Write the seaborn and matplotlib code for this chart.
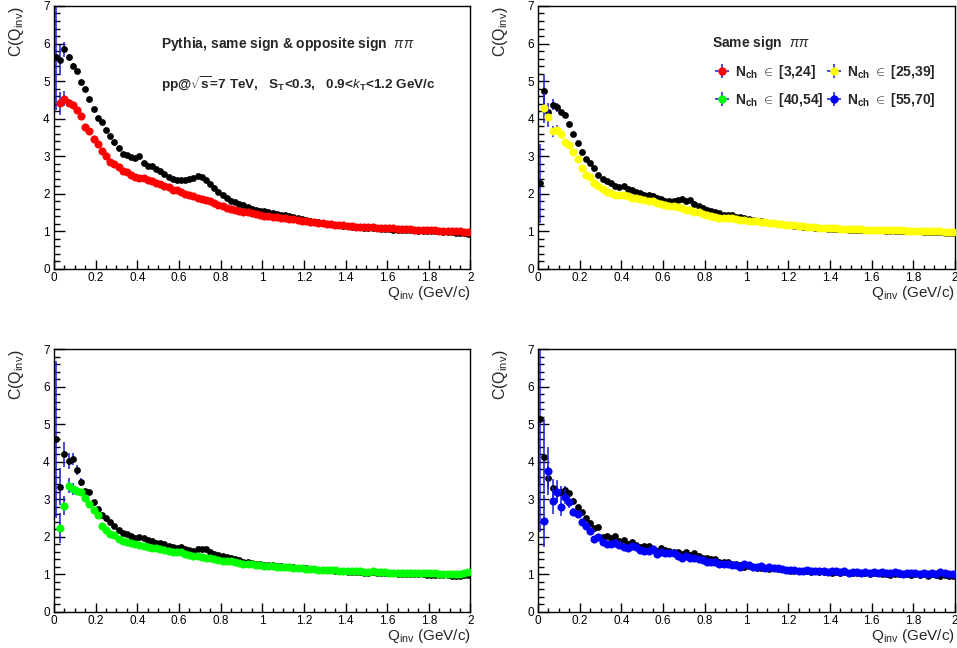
import numpy as np
import matplotlib
matplotlib.use("Agg")
import matplotlib.pyplot as plt
from matplotlib.ticker import MultipleLocator, FuncFormatter
import seaborn as sns

# bin centres of the Q_inv histograms (100 bins, 0-2 GeV/c)
q_bins = np.arange(100) * 0.02 + 0.01

# ---- panel 1: all multiplicities
os_all = [5.63, 5.56, 5.85, 5.63, 5.39, 5.27, 4.98, 4.79, 4.53, 4.27,
          4.02, 3.91, 3.71, 3.55, 3.37, 3.21, 3.05, 3.03, 2.98, 2.95,
          3.02, 2.83, 2.75, 2.74, 2.67, 2.60, 2.52, 2.44, 2.39, 2.37,
          2.37, 2.37, 2.39, 2.43, 2.48, 2.46, 2.36, 2.26, 2.15, 2.06,
          1.98, 1.90, 1.82, 1.77, 1.73, 1.69, 1.65, 1.60, 1.58, 1.55,
          1.53, 1.51, 1.49, 1.47, 1.45, 1.43, 1.41, 1.38, 1.35, 1.32,
          1.30, 1.28, 1.26, 1.24, 1.22, 1.20, 1.19, 1.17, 1.16, 1.15,
          1.14, 1.13, 1.12, 1.11, 1.10, 1.09, 1.09, 1.08, 1.07, 1.07,
          1.06, 1.05, 1.05, 1.04, 1.04, 1.03, 1.03, 1.02, 1.02, 1.01,
          1.01, 1.00, 1.00, 0.99, 0.99, 0.98, 0.97, 0.96, 0.96, 0.94]
ss_all = [np.nan, 4.41, 4.53, 4.43, 4.36, 4.22, 4.06, 3.79, 3.67, 3.47,
          3.32, 3.13, 3.01, 2.86, 2.79, 2.71, 2.60, 2.57, 2.51, 2.44,
          2.42, 2.42, 2.37, 2.33, 2.29, 2.26, 2.22, 2.18, 2.11, 2.09,
          2.04, 2.00, 1.98, 1.93, 1.89, 1.86, 1.84, 1.81, 1.75, 1.71,
          1.67, 1.63, 1.59, 1.58, 1.55, 1.52, 1.51, 1.48, 1.46, 1.44,
          1.42, 1.41, 1.39, 1.38, 1.36, 1.35, 1.33, 1.32, 1.30, 1.29,
          1.27, 1.26, 1.25, 1.23, 1.22, 1.21, 1.20, 1.18, 1.17, 1.16,
          1.15, 1.14, 1.13, 1.13, 1.12, 1.11, 1.11, 1.10, 1.09, 1.09,
          1.08, 1.08, 1.07, 1.07, 1.06, 1.06, 1.05, 1.05, 1.04, 1.04,
          1.03, 1.03, 1.02, 1.02, 1.01, 1.01, 1.00, 1.00, 0.99, 0.98]
os_all_err = [1.4, 0.4, 0.2, 0.1, 0.08, 0.06]
ss_all_err = [0.0, 0.3, 0.2, 0.1, 0.07, 0.05]

# ---- panel 2: N_ch in [25,39]
os_25 = [2.28, 4.75, 4.17, 4.37, 4.30, 4.19, 4.10, 3.85, 3.60, 3.35,
         3.11, 2.93, 2.83, 2.70, 2.49, 2.40, 2.33, 2.29, 2.20, 2.18,
         2.20, 2.13, 2.09, 2.05, 2.02, 1.98, 1.97, 1.93, 1.90, 1.86,
         1.82, 1.82, 1.82, 1.84, 1.87, 1.82, 1.83, 1.74, 1.67, 1.61,
         1.58, 1.54, 1.51, 1.48, 1.45, 1.43, 1.43, 1.38, 1.38, 1.36,
         1.33, 1.31, 1.29, 1.27, 1.25, 1.23, 1.22, 1.20, 1.19, 1.17,
         1.16, 1.15, 1.14, 1.13, 1.12, 1.11, 1.10, 1.09, 1.08, 1.07,
         1.07, 1.06, 1.06, 1.06, 1.05, 1.05, 1.05, 1.04, 1.04, 1.04,
         1.03, 1.03, 1.03, 1.02, 1.02, 1.02, 1.01, 1.01, 1.01, 1.00,
         1.00, 1.00, 0.99, 0.99, 0.99, 0.98, 0.98, 0.97, 0.97, 0.96]
ss_25 = [np.nan, 4.28, 4.04, 3.66, 3.70, 3.60, 3.39, 3.29, 3.11, 2.93,
         2.68, 2.49, 2.44, 2.30, 2.20, 2.13, 2.04, 2.02, 1.96, 1.97,
         1.98, 1.93, 1.90, 1.89, 1.87, 1.84, 1.82, 1.80, 1.75, 1.73,
         1.70, 1.68, 1.67, 1.64, 1.62, 1.58, 1.56, 1.51, 1.51, 1.47,
         1.44, 1.42, 1.39, 1.37, 1.36, 1.36, 1.35, 1.34, 1.31, 1.30,
         1.29, 1.28, 1.27, 1.25, 1.24, 1.23, 1.22, 1.20, 1.19, 1.18,
         1.17, 1.16, 1.15, 1.14, 1.13, 1.12, 1.11, 1.10, 1.10, 1.09,
         1.08, 1.08, 1.07, 1.07, 1.07, 1.06, 1.06, 1.06, 1.05, 1.05,
         1.05, 1.04, 1.04, 1.04, 1.03, 1.03, 1.03, 1.03, 1.02, 1.02,
         1.02, 1.01, 1.01, 1.01, 1.00, 1.00, 1.00, 0.99, 0.99, 0.99]
os_25_err = [1.05, 0.42, 0.25, 0.15, 0.12, 0.08, 0.06]
ss_25_err = [0.0, 0.4, 0.25, 0.15, 0.12, 0.08, 0.06]

# ---- panel 3: N_ch in [40,54]
os_40 = [4.59, 3.33, 4.19, 4.02, 4.07, 3.77, 3.46, 3.21, 3.20, 2.93,
         2.74, 2.58, 2.50, 2.38, 2.29, 2.18, 2.10, 2.06, 2.02, 1.95,
         1.99, 1.95, 1.91, 1.87, 1.82, 1.83, 1.79, 1.76, 1.73, 1.69,
         1.72, 1.66, 1.64, 1.62, 1.68, 1.68, 1.66, 1.60, 1.54, 1.51,
         1.47, 1.45, 1.42, 1.39, 1.37, 1.33, 1.32, 1.30, 1.28, 1.26,
         1.25, 1.24, 1.23, 1.22, 1.21, 1.20, 1.19, 1.18, 1.17, 1.16,
         1.15, 1.14, 1.13, 1.12, 1.11, 1.10, 1.10, 1.09, 1.08, 1.07,
         1.06, 1.06, 1.05, 1.05, 1.04, 1.04, 1.05, 1.03, 1.03, 1.02,
         1.02, 1.02, 1.01, 1.01, 1.00, 1.00, 1.00, 0.99, 0.99, 0.98,
         0.98, 0.98, 0.97, 0.97, 0.97, 0.96, 0.96, 0.96, 0.97, 0.97]
ss_40 = [np.nan, 2.22, 2.82, 3.36, 3.27, 3.22, 3.18, 3.02, 2.86, 2.71,
         2.58, 2.29, 2.18, 2.07, 2.04, 1.93, 1.88, 1.86, 1.82, 1.79,
         1.78, 1.76, 1.71, 1.69, 1.69, 1.67, 1.64, 1.62, 1.60, 1.58,
         1.58, 1.54, 1.51, 1.48, 1.47, 1.46, 1.44, 1.44, 1.39, 1.38,
         1.36, 1.35, 1.34, 1.31, 1.30, 1.28, 1.26, 1.26, 1.24, 1.23,
         1.22, 1.21, 1.21, 1.20, 1.19, 1.18, 1.18, 1.17, 1.16, 1.15,
         1.14, 1.13, 1.13, 1.12, 1.11, 1.11, 1.10, 1.10, 1.09, 1.08,
         1.08, 1.08, 1.07, 1.07, 1.06, 1.06, 1.07, 1.05, 1.05, 1.05,
         1.04, 1.04, 1.04, 1.03, 1.03, 1.03, 1.03, 1.02, 1.02, 1.02,
         1.02, 1.04, 1.01, 1.01, 1.00, 1.00, 0.99, 0.99, 1.02, 1.05]
os_40_err = [2.1, 0.5, 0.33, 0.22, 0.17, 0.13, 0.1, 0.07]
ss_40_err = [0.0, 0.4, 0.25, 0.2, 0.15, 0.1, 0.08, 0.06]

# ---- panel 4: N_ch in [55,70]
os_55 = [5.13, 4.13, 3.57, 3.29, 3.15, 3.20, 3.24, 3.15, 2.95, 2.80,
         2.65, 2.49, 2.37, 2.24, 2.26, 1.98, 2.02, 1.95, 2.02, 1.89,
         1.91, 1.79, 1.85, 1.78, 1.71, 1.75, 1.76, 1.64, 1.62, 1.69,
         1.63, 1.62, 1.60, 1.58, 1.53, 1.58, 1.51, 1.55, 1.47, 1.44,
         1.42, 1.40, 1.40, 1.33, 1.31, 1.31, 1.28, 1.26, 1.24, 1.18,
         1.22, 1.20, 1.17, 1.16, 1.17, 1.14, 1.15, 1.13, 1.13, 1.11,
         1.09, 1.07, 1.08, 1.07, 1.08, 1.06, 1.07, 1.05, 1.06, 1.05,
         1.04, 1.05, 1.03, 1.05, 1.02, 1.04, 1.02, 1.03, 1.03, 1.01,
         1.02, 1.03, 1.00, 1.01, 0.97, 1.01, 1.00, 0.99, 1.00, 0.97,
         1.00, 0.98, 0.99, 0.96, 0.99, 0.98, 0.95, 0.97, 0.96, 0.94]
ss_55 = [np.nan, 2.42, 3.75, 2.96, 3.20, 2.80, 3.06, 2.91, 2.65, 2.59,
         2.40, 2.29, 2.16, 1.94, 2.00, 1.85, 1.79, 1.79, 1.82, 1.78,
         1.73, 1.69, 1.76, 1.71, 1.64, 1.62, 1.62, 1.67, 1.54, 1.58,
         1.55, 1.55, 1.55, 1.49, 1.44, 1.49, 1.44, 1.42, 1.40, 1.38,
         1.33, 1.31, 1.31, 1.26, 1.26, 1.28, 1.24, 1.23, 1.20, 1.28,
         1.23, 1.20, 1.18, 1.22, 1.17, 1.19, 1.16, 1.15, 1.14, 1.12,
         1.10, 1.10, 1.09, 1.08, 1.11, 1.08, 1.09, 1.07, 1.08, 1.06,
         1.07, 1.09, 1.05, 1.07, 1.03, 1.06, 1.05, 1.04, 1.06, 1.04,
         1.05, 1.03, 1.06, 1.04, 1.02, 1.05, 1.03, 1.01, 1.04, 1.02,
         1.03, 1.01, 1.04, 1.00, 1.02, 0.99, 1.05, 1.03, 1.00, 0.99]
os_55_err = [3.0, 1.0, 0.3, 0.25, 0.2, 0.15, 0.12, 0.1, 0.07]
ss_55_err = [0.0, 0.7, 0.65, 0.35, 0.3, 0.25, 0.2, 0.15, 0.1, 0.07]

panel_colors = ["#ff0000", "#ffff00", "#00ff00", "#0000ff"]
legend_labels = ["[3,24]", "[25,39]", "[40,54]", "[55,70]"]
ERR_COLOR = "#1a1ad6"


def full_err(lead):
    return np.array(lead + [0.02] * (len(q_bins) - len(lead)))


def draw_series(ax, vals, errs, color, size, z):
    ax.errorbar(q_bins, vals, yerr=full_err(errs), fmt="none", ecolor=ERR_COLOR,
                elinewidth=1.1, capsize=0, zorder=z)
    sns.scatterplot(x=q_bins, y=np.array(vals), color=color, s=size, linewidth=0,
                    ax=ax, zorder=z + 0.5, legend=False)


def style_axes(ax):
    ax.set_xlim(0, 2)
    ax.set_ylim(0, 7)
    ax.xaxis.set_major_locator(MultipleLocator(0.2))
    ax.xaxis.set_minor_locator(MultipleLocator(0.05))
    ax.yaxis.set_major_locator(MultipleLocator(1))
    ax.yaxis.set_minor_locator(MultipleLocator(0.2))
    fmt = FuncFormatter(lambda v, _: f"{v:g}")
    ax.xaxis.set_major_formatter(fmt)
    ax.yaxis.set_major_formatter(fmt)
    ax.tick_params(which="both", direction="in", top=False, right=False,
                   bottom=True, left=True,
                   color="black", labelcolor="black", labelsize=8.5, width=1)
    ax.tick_params(axis="y", which="major", length=8, pad=3)
    ax.tick_params(axis="y", which="minor", length=4)
    ax.tick_params(axis="x", which="major", length=6.5, pad=2.5)
    ax.tick_params(axis="x", which="minor", length=3)
    for sp in ax.spines.values():
        sp.set_color("black")
        sp.set_linewidth(1.0)
    ax.set_xlabel("")
    ax.set_ylabel("")
    ax.text(1.0, -0.058, r"Q$_{\mathregular{inv}}$ (GeV/c)", transform=ax.transAxes,
            ha="right", va="top", fontsize=11)
    ax.text(-0.09, 1.0, r"C(Q$_{\mathregular{inv}}$)", transform=ax.transAxes,
            ha="center", va="top", rotation=90, fontsize=11.5)


sns.set_style("white")
plt.rcParams["font.family"] = ["Liberation Sans", "DejaVu Sans"]
plt.rcParams["mathtext.fontset"] = "custom"
plt.rcParams["mathtext.rm"] = "Liberation Sans"
plt.rcParams["mathtext.it"] = "Liberation Sans:italic"
plt.rcParams["mathtext.bf"] = "Liberation Sans:bold"

fig = plt.figure(figsize=(9.57, 6.48), dpi=100)
boxes = [[0.0564, 0.5849, 0.4352, 0.4059],
         [0.5622, 0.5849, 0.4357, 0.4059],
         [0.0564, 0.0563, 0.4352, 0.4050],
         [0.5622, 0.0563, 0.4357, 0.4050]]
axes = [fig.add_axes(b) for b in boxes]

panels = [(os_all, os_all_err, ss_all, ss_all_err, panel_colors[0]),
          (os_25, os_25_err, ss_25, ss_25_err, panel_colors[1]),
          (os_40, os_40_err, ss_40, ss_40_err, panel_colors[2]),
          (os_55, os_55_err, ss_55, ss_55_err, panel_colors[3])]

for ax, (os_vals, os_err, ss_vals, ss_err, col) in zip(axes, panels):
    draw_series(ax, os_vals, os_err, "black", 24, 2)
    draw_series(ax, ss_vals, ss_err, col, 34, 3)
    style_axes(ax)

# annotations
ax1 = axes[0]
ax1.text(0.257, 0.856, r"Pythia, same sign & opposite sign  $\pi\pi$", transform=ax1.transAxes,
         ha="left", va="center", fontsize=10, fontweight="bold")
ax1.text(0.257, 0.703,
         r"pp@$\sqrt{\mathbf{s}}$=7 TeV,   S$_{\mathbf{T}}$<0.3,   0.9<$k$$_{\mathbf{T}}$<1.2 GeV/c",
         transform=ax1.transAxes, ha="left", va="center", fontsize=9.7, fontweight="bold")

ax2 = axes[1]
ax2.text(0.417, 0.860, r"Same sign  $\pi\pi$", transform=ax2.transAxes,
         ha="left", va="center", fontsize=10, fontweight="bold")
handles = []
for col in panel_colors:
    h = ax2.errorbar([np.nan], [np.nan], xerr=[1], yerr=[1], fmt="o", color=col,
                     ecolor=ERR_COLOR, ms=6, mew=0, elinewidth=1.1, capsize=0)
    handles.append(h)
labels = [r"N$_{\mathbf{ch}}$ $\in$ " + lab for lab in legend_labels]
order = [0, 2, 1, 3]
leg = ax2.legend([handles[i] for i in order], [labels[i] for i in order], ncol=2,
                 loc="upper left", bbox_to_anchor=(0.418, 0.784), frameon=False,
                 prop={"weight": "bold", "size": 10}, borderpad=0, borderaxespad=0,
                 handlelength=1.35, handletextpad=0.3, columnspacing=0.05, labelspacing=0.75)
ax2.set_xlim(0, 2)
ax2.set_ylim(0, 7)

fig.savefig("out.png", dpi=100)
